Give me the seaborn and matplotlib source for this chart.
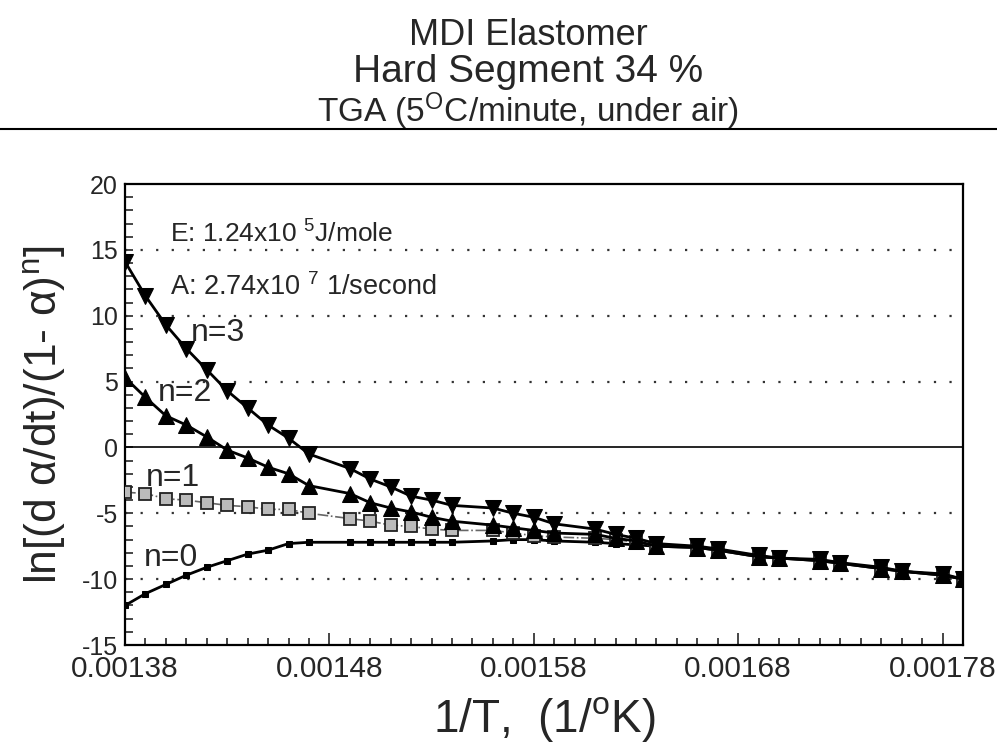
import matplotlib
matplotlib.use('Agg')
import matplotlib.pyplot as plt
import seaborn as sns
import numpy as np
import pandas as pd
from matplotlib.ticker import MultipleLocator, FixedLocator
from matplotlib.lines import Line2D

# --- Data ---
inv_T = [0.00138, 0.00139, 0.00140, 0.00141, 0.00142, 0.00143, 0.00144, 0.00145,
         0.00146, 0.00147, 0.00149, 0.00150, 0.00151, 0.00152, 0.00153, 0.00154,
         0.00156, 0.00157, 0.00158, 0.00159, 0.00161, 0.00162, 0.00163, 0.00164,
         0.00166, 0.00167, 0.00169, 0.00170, 0.00172, 0.00173, 0.00175, 0.00176,
         0.00178, 0.00179]

n3 = [14.1, 11.5, 9.3, 7.5, 5.9, 4.3, 3.0, 1.7, 0.7, -0.5, -1.6, -2.4, -3.0, -3.7,
      -4.0, -4.4, -4.6, -5.0, -5.3, -5.8, -6.2, -6.6, -6.9, -7.3, -7.5, -7.7, -8.2,
      -8.4, -8.5, -8.75, -9.1, -9.4, -9.6, -10.0]
n2 = [5.3, 3.8, 2.4, 1.7, 0.8, -0.2, -0.8, -1.5, -2.0, -2.9, -3.5, -4.2, -4.6, -4.9,
      -5.3, -5.6, -5.9, -6.1, -6.3, -6.5, -6.6, -6.9, -7.1, -7.5, -7.6, -7.8, -8.3,
      -8.4, -8.6, -8.8, -9.2, -9.4, -9.7, -10.0]
n1 = [-3.4, -3.5, -3.9, -4.0, -4.2, -4.4, -4.5, -4.7, -4.7, -5.0, -5.4, -5.6, -5.9,
      -6.0, -6.2, -6.3, -6.3, -6.5, -6.7, -6.8, -6.9, -7.0, -7.2, -7.5, -7.6, -7.8,
      -8.3, -8.4, -8.6, -8.8, -9.2, -9.4, -9.7, -10.0]
n0 = [-12.0, -11.1, -10.4, -9.7, -9.1, -8.6, -8.1, -7.8, -7.3, -7.2, -7.2, -7.2,
      -7.2, -7.2, -7.2, -7.2, -7.1, -7.0, -7.0, -7.1, -7.2, -7.3, -7.4, -7.5, -7.6,
      -7.8, -8.3, -8.4, -8.6, -8.8, -9.2, -9.4, -9.7, -10.0]

x_ticks = [0.00138, 0.00148, 0.00158, 0.00168, 0.00178]
y_ticks = [-15, -10, -5, 0, 5, 10, 15, 20]

df = pd.DataFrame({'inv_T': inv_T, 'n3': n3, 'n2': n2, 'n1': n1, 'n0': n0})

# --- Style ---
sns.set_style('ticks')
plt.rcParams['font.family'] = ['Liberation Sans', 'DejaVu Sans']
plt.rcParams['mathtext.fontset'] = 'custom'
plt.rcParams['mathtext.rm'] = 'Liberation Sans'
plt.rcParams['mathtext.it'] = 'Liberation Sans'

fig = plt.figure(figsize=(9.97, 7.48), dpi=100)
ax = fig.add_axes([0.1254, 0.1377, 0.8405, 0.6163])

# grid lines: dotted, solid at zero
for yv in y_ticks:
    if yv == 0:
        ax.axhline(0, color='black', lw=1.2, zorder=1)
    elif -15 < yv < 20:
        ax.axhline(yv, color='#333333', lw=1.6, ls=(0, (1, 6)), zorder=1)

sns.lineplot(data=df, x='inv_T', y='n0', ax=ax, color='black', lw=2.0,
             marker='s', markersize=4, markeredgecolor='black', zorder=3)
sns.lineplot(data=df, x='inv_T', y='n1', ax=ax, color='#666666', lw=1.2,
             ls='-.', marker='s', markersize=8, markerfacecolor='#bbbbbb',
             markeredgecolor='#222222', markeredgewidth=1.3, zorder=3)
sns.lineplot(data=df, x='inv_T', y='n2', ax=ax, color='black', lw=2.0,
             marker='^', markersize=11, markeredgecolor='black', zorder=4)
sns.lineplot(data=df, x='inv_T', y='n3', ax=ax, color='black', lw=2.0,
             marker='v', markersize=11, markeredgecolor='black', zorder=4)

ax.set_xlim(0.00138, 0.00179)
ax.set_ylim(-15, 20)
ax.xaxis.set_major_locator(FixedLocator(x_ticks))
ax.xaxis.set_minor_locator(MultipleLocator(0.00001))
ax.yaxis.set_major_locator(FixedLocator(y_ticks))
ax.yaxis.set_minor_locator(MultipleLocator(1))
ax.set_xticklabels([f'{v:.5f}' for v in x_ticks])
ax.set_yticklabels([str(v) for v in y_ticks])
ax.tick_params(axis='both', which='both', direction='in', width=1.2)
ax.tick_params(axis='x', which='major', length=9, pad=7, labelsize=21.5)
ax.tick_params(axis='x', which='minor', length=5)
ax.tick_params(axis='y', which='both', length=6, pad=5, labelsize=18)
for s in ax.spines.values():
    s.set_linewidth(1.6)
    s.set_color('black')

ax.set_xlabel('1/T,  (1/$^{\\mathrm{o}}$K)', fontsize=33)
ax.set_ylabel('ln[(d α/dt)/(1- α)$^{\\mathrm{n}}$]', fontsize=32)
ax.xaxis.set_label_coords(0.5, -0.108)
ax.yaxis.set_label_coords(-0.068, 0.5)

# annotations
ax.text(0.001402, 16.2, 'E: 1.24x10 $^{5}$J/mole', fontsize=19, va='center')
ax.text(0.001402, 12.2, 'A: 2.74x10 $^{7}$ 1/second', fontsize=19.5, va='center')
ax.text(0.001412, 8.7, 'n=3', fontsize=23, va='center')
ax.text(0.001396, 4.1, 'n=2', fontsize=23, va='center')
ax.text(0.001390, -2.3, 'n=1', fontsize=23, va='center')
ax.text(0.001389, -8.4, 'n=0', fontsize=23, va='center')

# titles
fig.text(0.53, 0.940, 'MDI Elastomer', ha='center', va='baseline', fontsize=26)
fig.text(0.53, 0.891, 'Hard Segment 34 %', ha='center', va='baseline', fontsize=28)
fig.text(0.53, 0.837, 'TGA (5$^{\\mathrm{O}}$C/minute, under air)', ha='center',
         va='baseline', fontsize=24)
fig.add_artist(Line2D([0, 1], [0.828, 0.828], color='black', lw=1.5,
                      transform=fig.transFigure))

fig.savefig('out.png', dpi=100)
